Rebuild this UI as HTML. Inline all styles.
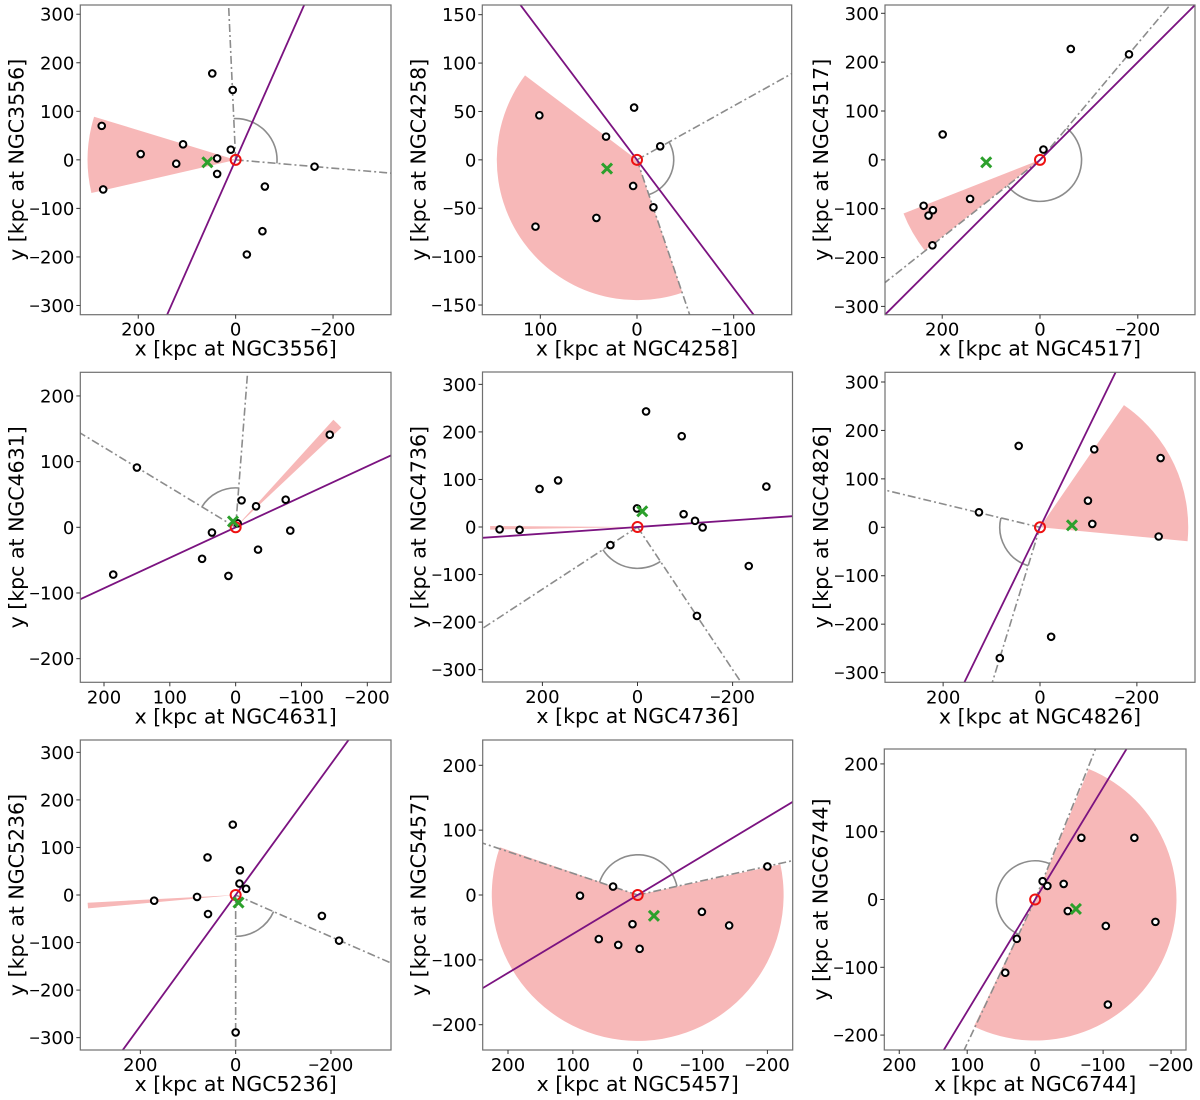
<!DOCTYPE html>
<html><head><meta charset="utf-8"><style>
html,body{margin:0;padding:0;background:#fff;overflow:hidden;width:1200px;height:1100px;}
svg{display:block;font-family:"DejaVu Sans","Liberation Sans",sans-serif;}
.mn{font-family:"Liberation Sans",sans-serif;}
</style></head><body>
<svg id="fig" width="1200" height="1100" viewBox="0 0 1200 1100" xmlns="http://www.w3.org/2000/svg"></svg>
<script>
const galaxyNames = ["NGC3556","NGC4258","NGC4517","NGC4631","NGC4736","NGC4826","NGC5236","NGC5457","NGC6744"];
const axisRange = [319,160,317,236,326,320,326,239,222];
const xTicks = [[200,0,-200],[100,0,-100],[200,0,-200],[200,100,0,-100,-200],[200,0,-200],[200,0,-200],[200,0,-200],[200,100,0,-100,-200],[200,100,0,-100,-200]];
const yTicks = [[-300,-200,-100,0,100,200,300],[-150,-100,-50,0,50,100,150],[-300,-200,-100,0,100,200,300],[-200,-100,0,100,200],[-300,-200,-100,0,100,200,300],[-300,-200,-100,0,100,200,300],[-300,-200,-100,0,100,200,300],[-200,-100,0,100,200],[-200,-100,0,100,200]];
const satX = [
 [48,6,275,108,195,122,38,10,38,272,-162,-60,-55,-23],
 [101,32,3,-24,4,-17,42,105],
 [-63,-182,199,-7,143,238,219,228,220],
 [-143,150,-9,-31,-76,-83,36,-34,51,11,186,-3],
 [-18,-93,206,167,-271,1,-97,-121,-137,290,248,57,-234,-125],
 [44,-112,-249,-99,-108,-245,126,-23,83],
 [6,59,-9,-8,-22,81,171,58,-181,-217,0],
 [89,38,-200,8,60,30,-3,-99,-141],
 [-68,-146,-11,-18,-42,-48,-104,-177,-107,27,44]
];
const satY = [
 [178,144,70,32,12,-8,3,21,-29,-61,-14,-55,-147,-195],
 [46,24,54,14,-27,-49,-60,-69],
 [227,216,52,21,-80,-94,-103,-114,-175],
 [141,91,41,32,42,-5,-8,-34,-48,-74,-72,6],
 [243,191,80,98,85,39,27,13,-1,-5,-6,-38,-82,-187],
 [168,161,143,55,7,-19,31,-226,-270],
 [148,79,52,24,13,-4,-12,-40,-44,-96,-289],
 [-1,13,44,-45,-68,-77,-83,-26,-47],
 [91,91,27,20,23,-17,-39,-33,-155,-58,-108]
];
const centroidX = [58,31,110,4,-10,-66,-6,-25,-60];
const centroidY = [-5,-9,-5,9,33,4,-16,-32,-14];
const axisLineAngle = [66.2,-53.0,45.0,24.9,4.0,64.0,54.0,31.0,58.8];
const rayAngleA = [-4.9,-71.2,218.4,85.6,213.2,166.5,270,12.5,68.2];
const rayAngleB = [92.6,29.1,410.0,148.7,303.7,252.9,336.3,161.5,244.8];
const arcRadius = [85,38,85,60,87,83,87,62,57];
const wedgeStart = [163,143,201.5,43.4,179.6,-5.4,183,160.9,244.3];
const wedgeEnd = [193,288.9,218.2,47.8,181.0,55.5,185.2,372.1,427.7];
const wedgeRadius = [304,145,300,221,310,306,311,225,208];

const boxes = [[80.3,5,310.7,309.7],[482.3,5,309.4,309.7],[885,5,310,309.7],[80.3,372.3,310.7,310],[482.5,372,310,310],[885,372.3,310,310],[80.3,740,310.7,310],[482.7,740,310,310],[884.3,749,301.7,301]];

const NS="http://www.w3.org/2000/svg";
const fig=document.getElementById('fig');
function mk(tag,attrs,parent){const e=document.createElementNS(NS,tag);for(const k in attrs)e.setAttribute(k,attrs[k]);(parent||fig).appendChild(e);return e;}
function putLabel(t,v){
  if(v<0){const m=mk('tspan',{class:'mn'},t);m.textContent="\u2212";const r=mk('tspan',{},t);r.textContent=String(-v);}
  else t.textContent=String(v);
}

for(let p=0;p<9;p++){
  const [L,T,W,H]=boxes[p]; const R=axisRange[p];
  const sx=x=>L+(R-x)/(2*R)*W;
  const sy=y=>T+(R-y)/(2*R)*H;
  const kx=W/(2*R), ky=H/(2*R);
  const ox=sx(0), oy=sy(0);
  const pt=(r,a)=>{const t=a*Math.PI/180;return [sx(-r*Math.cos(t)),sy(r*Math.sin(t))];};
  const g=mk('g',{});
  
  
  const cp=mk('clipPath',{id:'clip'+p},g);
  mk('rect',{x:L,y:T,width:W,height:H},cp);
  const plot=mk('g',{'clip-path':'url(#clip'+p+')'},g);
  
  
  const a1=wedgeStart[p],a2=wedgeEnd[p],wr=wedgeRadius[p];
  const s=pt(wr,a1),e=pt(wr,a2);
  const large=(a2-a1)>180?1:0;
  const wedge=mk('path',{d:`M${ox},${oy} L${s[0]},${s[1]} A${wr*kx},${wr*ky} 0 ${large} 0 ${e[0]},${e[1]} Z`,fill:'#f7b8b8',stroke:'none'},plot);
  
  
  [rayAngleA[p],rayAngleB[p]].forEach((a,i)=>{
    const q=pt(R*3,a);
    const ray=mk('line',{x1:ox,y1:oy,x2:q[0],y2:q[1],stroke:'#8c8c8c','stroke-width':1.6,'stroke-dasharray':'8,3,2,3'},plot);
    
    
  });
  const b1=rayAngleA[p],b2=rayAngleB[p],ar=arcRadius[p];
  const as=pt(ar,b1),ae=pt(ar,b2);
  const arc=mk('path',{d:`M${as[0]},${as[1]} A${ar*kx},${ar*ky} 0 ${(b2-b1)>180?1:0} 0 ${ae[0]},${ae[1]}`,fill:'none',stroke:'#8c8c8c','stroke-width':1.6},plot);
  
  
  const la=pt(R*3,axisLineAngle[p]),lb=pt(R*3,axisLineAngle[p]+180);
  const line=mk('line',{x1:la[0],y1:la[1],x2:lb[0],y2:lb[1],stroke:'#7b1380','stroke-width':1.8},plot);
  
  
  for(let i=0;i<satX[p].length;i++){
    const c=mk('circle',{cx:sx(satX[p][i]),cy:sy(satY[p][i]),r:3.3,fill:'#fff',stroke:'#000','stroke-width':2},plot);
    
    
  }
  const host=mk('circle',{cx:ox,cy:oy,r:5,fill:'none',stroke:'#ee1111','stroke-width':2},plot);
  
  
  const cx=sx(centroidX[p]),cy=sy(centroidY[p]),d=5;
  const cross=mk('path',{d:`M${cx-d},${cy-d}L${cx+d},${cy+d}M${cx-d},${cy+d}L${cx+d},${cy-d}`,stroke:'#2ca02c','stroke-width':3,fill:'none'},plot);
  
  
  const fr=mk('rect',{x:L,y:T,width:W,height:H,fill:'none',stroke:'#707070','stroke-width':1.2},g);
  
  
  xTicks[p].forEach(v=>{
    const X=sx(v);
    mk('line',{x1:X,y1:T+H,x2:X,y2:T+H+4,stroke:'#333','stroke-width':1},g);
    const t=mk('text',{x:X,y:T+H+21,'text-anchor':'middle','font-size':18,fill:'#000'},g);
    putLabel(t,v);
    
    
  });
  yTicks[p].forEach(v=>{
    const Y=sy(v);
    mk('line',{x1:L-4,y1:Y,x2:L,y2:Y,stroke:'#333','stroke-width':1},g);
    const t=mk('text',{x:L-6,y:Y+6.5,'text-anchor':'end','font-size':18,fill:'#000'},g);
    putLabel(t,v);
    
    
  });
  const xl=mk('text',{x:L+W/2,y:T+H+41,'text-anchor':'middle','font-size':20.5,fill:'#000'},g);
  xl.textContent='x [kpc at '+galaxyNames[p]+']';
  
  
  const yx=L-57, yy=T+H/2;
  const yl=mk('text',{x:yx,y:yy,'text-anchor':'middle','font-size':20.5,fill:'#000',transform:`rotate(-90 ${yx} ${yy})`},g);
  yl.textContent='y [kpc at '+galaxyNames[p]+']';
  
  
}
</script>
</body></html>
